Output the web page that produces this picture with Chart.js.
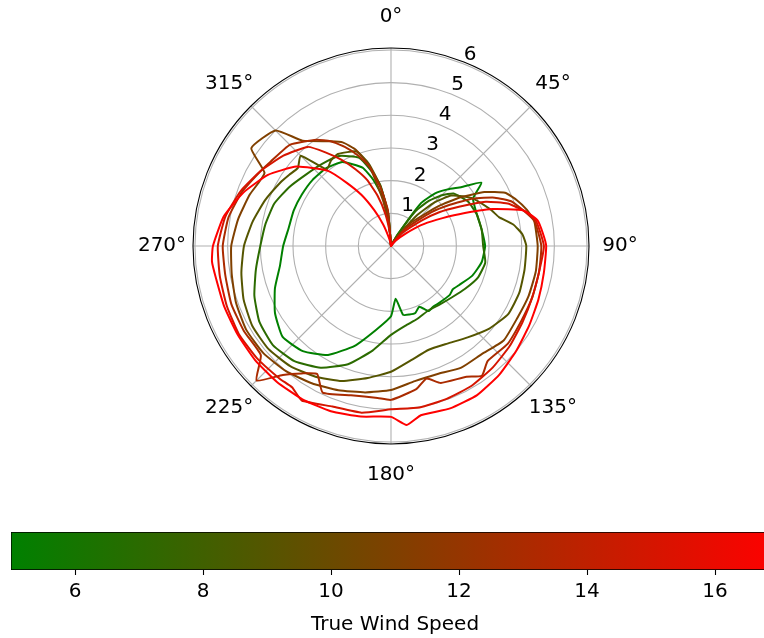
<!DOCTYPE html>
<html>
<head>
<meta charset="utf-8">
<script src="https://cdn.jsdelivr.net/npm/chart.js@4.4.1/dist/chart.umd.min.js"></script>
<style>
  html, body { margin: 0; padding: 0; background: #fff; overflow: hidden; }
  #polar-wrap { position: absolute; left: 0; top: 0; width: 764px; height: 500px; }
  #cbar-wrap { position: absolute; left: 0; top: 520px; width: 800px; height: 118px; }
</style>
</head>
<body>
<div id="polar-wrap"><canvas id="polar" width="764" height="500"></canvas></div>
<div id="cbar-wrap"><canvas id="cbar" width="800" height="118"></canvas></div>
<script>
// true wind angle, every 5 deg
const angles = [0, 5, 10, 15, 20, 25, 30, 35, 40, 45, 50, 55,
  60, 65, 70, 75, 80, 85, 90, 95, 100, 105, 110, 115,
  120, 125, 130, 135, 140, 145, 150, 155, 160, 165, 170, 175,
  180, 185, 190, 195, 200, 205, 210, 215, 220, 225, 230, 235,
  240, 245, 250, 255, 260, 265, 270, 275, 280, 285, 290, 295,
  300, 305, 310, 315, 320, 325, 330, 335, 340, 345, 350, 355]

const angleTicks = [0, 45, 90, 135, 180, 225, 270, 315]
const speedTicks = [1, 2, 3, 4, 5, 6]

const tws = [5, 7, 9, 11, 13, 15, 17]

// boat speed (null = not read, line spans)
const bsp5 = [0, null, 0, null, 0, null, 0.4, 1.6, 2.1, 2.45, 2.8, 3.38,
  2.9, null, 2.8, null, 2.82, null, 2.88, null, 2.82, null, 2.65, null,
  2.4, 2.31, 2.34, null, 2.28, 2.26, 2.3, 2.05, 2.18, 2.17, 2.14, 1.62,
  2.15, null, 2.6, null, 3.25, null, 3.85, null, 4.2, null, 4.33, null,
  4.1, null, 3.78, null, 3.45, null, 3.3, null, 3.18, null, 3.17, null,
  3.15, null, 3.14, null, 3.1, null, 2.97, null, 2.55, 2.1, 1.55, 0.85]
const bsp7 = [0, null, 0, null, 0, null, 0.35, 1.3, 1.8, 2.2, 2.5, null,
  2.72, null, 2.8, null, 2.82, null, 2.82, null, 2.93, null, 2.83, null,
  2.62, null, 2.44, null, 2.33, null, 2.28, null, 2.37, null, 2.48, null,
  2.72, null, 3.25, null, 3.85, null, 4.3, null, 4.6, null, 4.72, null,
  4.65, null, 4.45, null, 4.2, null, 4.0, null, 3.9, null, 3.8, null,
  3.6, null, 3.4, null, 3.28, null, 3.18, null, 2.88, 2.4, 1.9, 1.0]
const bsp9 = [0, null, 0, null, 0, null, 0.25, null, 1.2, 1.9, 2.4, 2.66,
  2.9, null, 3.25, 3.42, 3.8, 4.04, 4.14, null, 4.15, null, 4.18, null,
  4.15, null, 3.93, null, 3.65, null, 3.45, null, 3.38, null, 3.55, null,
  3.85, null, 4.1, null, 4.4, null, 4.62, null, 4.8, null, 4.9, null,
  4.9, null, 4.8, null, 4.65, null, 4.5, null, 4.3, null, 4.1, null,
  3.9, 3.8, 3.72, 3.91, 3.06, 3.2, 3.25, null, 3.08, 2.6, 1.85, 1.0]
const bsp11 = [0, null, 0, null, 0, null, 0.15, null, 0.9, null, 1.9, 2.6,
  3.3, 3.85, 4.1, 4.3, 4.45, null, 4.49, null, 4.5, null, 4.48, null,
  4.45, null, 4.5, null, 4.32, null, 4.3, null, 4.17, null, 4.2, null,
  4.41, null, 4.55, null, 4.7, null, 4.85, null, 5.0, null, 5.1, null,
  5.12, null, 5.05, null, 4.95, null, 4.89, null, 4.75, null, 4.6, null,
  4.47, 5.22, null, 5.0, 4.21, null, 3.7, 3.5, 3.13, 2.5, 1.43, 0.6]
const bsp13 = [0, null, 0, null, 0, null, 0.1, null, 0.7, null, 1.6, 2.2,
  2.9, 3.5, 3.95, null, 4.45, null, 4.6, null, 4.6, null, 4.6, null,
  4.6, null, 4.66, null, 4.6, 4.85, 4.62, null, 4.46, 4.2, 4.45, null,
  4.71, 4.67, null, 4.73, null, 4.95, 4.52, 4.76, 5.15, 5.82, 5.2, null,
  5.2, null, 5.2, null, 5.15, null, 5.15, null, 5.05, null, 4.85, null,
  4.6, 4.5, null, 4.38, null, 3.97, 3.7, 3.35, 2.95, 2.5, 1.8, 1.1]
const bsp15 = [0, null, 0, null, 0, null, 0.05, null, 0.5, null, 1.2, 1.8,
  2.4, 3.2, 3.8, 4.2, 4.5, null, 4.68, null, 4.6, null, 4.6, null,
  4.65, null, 4.75, null, 4.85, null, 4.94, null, 4.98, null, 5.02, null,
  5.0, null, 5.18, null, 5.23, null, 5.46, 5.28, 5.3, null, 5.35, null,
  5.38, null, 5.35, null, 5.32, null, 5.3, null, 5.15, null, 4.9, null,
  4.6, null, 4.3, null, 3.96, 3.5, 3.05, 2.6, 2.16, 1.6, 1.0, 0.4]
const bsp17 = [0, null, 0, null, 0, null, 0, null, 0.2, null, 0.6, 1.1,
  1.6, 2.3, 3.3, 4.2, 4.55, 4.66, 4.75, null, 4.75, null, 4.8, null,
  4.88, null, 5.0, null, 5.15, null, 5.27, null, 5.29, null, 5.26, 5.5,
  5.23, null, 5.3, null, 5.38, null, 5.42, null, 5.43, null, 5.43, null,
  5.42, null, 5.43, null, 5.45, 5.5, 5.45, null, 5.2, null, 4.8, null,
  4.35, null, 3.78, null, 3.0, 2.36, 1.8, 1.2, 0.7, 0.3, 0.1, 0]

const series = [bsp5, bsp7, bsp9, bsp11, bsp13, bsp15, bsp17]

const cbarMin = 5
const cbarMax = 17
const cbarTicks = [6, 8, 10, 12, 14, 16]

const FONT = '"DejaVu Sans", "Liberation Sans", sans-serif'
const FSIZE = 20

// green -> red colormap
function windColor(v) {
  let t = (v - cbarMin) / (cbarMax - cbarMin)
  let r = Math.round(255 * t)
  let g = Math.round(128 * (1 - t))
  return 'rgb(' + r + ',' + g + ',0)'
}

const polarDecor = {
  id: 'polarDecor',
  afterDraw(chart) {
    const s = chart.scales.r
    const ctx = chart.ctx
    ctx.save()
    // outer spine
    ctx.beginPath()
    ctx.arc(s.xCenter, s.yCenter, s.drawingArea, 0, Math.PI * 2)
    ctx.strokeStyle = '#000'
    ctx.lineWidth = 1.1
    ctx.stroke()

    ctx.fillStyle = '#000'
    ctx.font = FSIZE + 'px ' + FONT
    ctx.textAlign = 'center'
    ctx.textBaseline = 'middle'
    angleTicks.forEach(a => {
      let p = s.getPointPosition(angles.indexOf(a), s.drawingArea + 31)
      ctx.fillText(a + '°', p.x, p.y)
    })
    // radial labels along 22.5 deg
    speedTicks.forEach(v => {
      let p = s.getPointPosition(4.5, s.getDistanceFromCenterForValue(v) + 11)
      ctx.fillText(String(v), p.x, p.y)
    })
    ctx.restore()
  }
}

const datasets = series.map((d, i) => ({
  label: 'TWS ' + tws[i],
  data: d,
  borderColor: windColor(tws[i]),
  borderWidth: 2,
  borderJoinStyle: 'round',
  pointRadius: 0,
  fill: false,
  spanGaps: true,
  tension: 0.15,
  order: tws.length - i
}))

new Chart(document.getElementById('polar'), {
  type: 'radar',
  data: { labels: angles, datasets: datasets },
  options: {
    responsive: false,
    animation: false,
    layout: { padding: { left: 193, right: 175, top: 48, bottom: 56 } },
    plugins: { legend: { display: false }, tooltip: { enabled: false } },
    scales: {
      r: {
        min: 0,
        max: 6.06,
        bounds: 'data',
        startAngle: 0,
        ticks: { display: false, stepSize: 1, includeBounds: false },
        grid: { circular: true, color: '#b0b0b0', lineWidth: 1.1 },
        angleLines: {
          color: '#b0b0b0',
          lineWidth: c => (angles[c.index] % 45 === 0 ? 1.1 : 0)
        },
        pointLabels: { display: false }
      }
    }
  },
  plugins: [polarDecor]
})

// colorbar: one floating bar with the colormap as gradient
new Chart(document.getElementById('cbar'), {
  type: 'bar',
  data: {
    labels: [''],
    datasets: [{
      data: [[cbarMin, cbarMax]],
      backgroundColor: c => {
        const area = c.chart.chartArea
        if (!area) return windColor(11)
        const g = c.chart.ctx.createLinearGradient(area.left, 0, area.right, 0)
        g.addColorStop(0, windColor(cbarMin))
        g.addColorStop(1, windColor(cbarMax))
        return g
      },
      borderColor: '#000',
      borderWidth: 1,
      borderSkipped: false,
      barPercentage: 1,
      categoryPercentage: 1
    }]
  },
  options: {
    indexAxis: 'y',
    responsive: false,
    animation: false,
    layout: { padding: { left: 11, right: 21, top: 12, bottom: 0 } },
    plugins: {
      legend: { display: false },
      tooltip: { enabled: false },
      title: {
        display: true,
        position: 'bottom',
        text: 'True Wind Speed',
        color: '#000',
        font: { family: FONT, size: FSIZE, weight: 'normal' },
        padding: { top: 4, bottom: 1 }
      }
    },
    scales: {
      x: {
        type: 'linear',
        min: cbarMin,
        max: cbarMax,
        afterBuildTicks: s => { s.ticks = cbarTicks.map(v => ({ value: v })) },
        grid: { drawOnChartArea: false, drawTicks: true, tickLength: 5, tickColor: '#000', tickWidth: 1.1 },
        border: { display: false },
        ticks: { color: '#000', padding: 5, font: { family: FONT, size: FSIZE } }
      },
      y: { display: false }
    }
  }
})
</script>
</body>
</html>
